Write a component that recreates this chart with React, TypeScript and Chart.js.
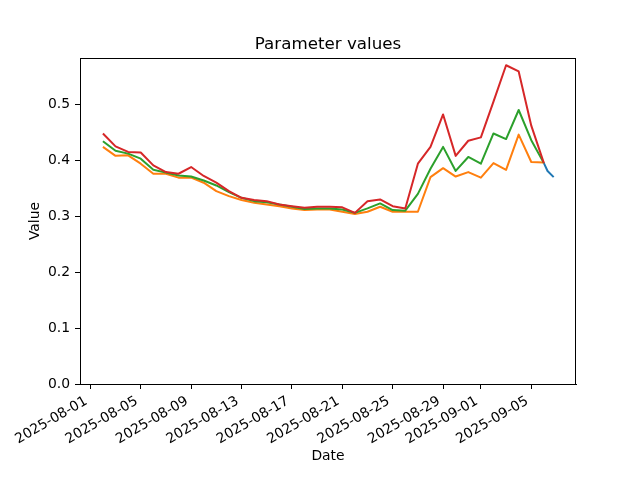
import React, { useEffect, useRef } from "react";
import { Chart, registerables } from "chart.js";

Chart.register(...registerables);

const ORIGIN_DATE = "2025-08-01";

const dates = [
  "2025-08-02", "2025-08-03", "2025-08-04", "2025-08-05", "2025-08-06", "2025-08-07",
  "2025-08-08", "2025-08-09", "2025-08-10", "2025-08-11", "2025-08-12", "2025-08-13",
  "2025-08-14", "2025-08-15", "2025-08-16", "2025-08-17", "2025-08-18", "2025-08-19",
  "2025-08-20", "2025-08-21", "2025-08-22", "2025-08-23", "2025-08-24", "2025-08-25",
  "2025-08-26", "2025-08-27", "2025-08-28", "2025-08-29", "2025-08-30", "2025-08-31",
  "2025-09-01", "2025-09-02", "2025-09-03", "2025-09-04", "2025-09-05", "2025-09-06",
];

const redValues = [
  0.448, 0.425, 0.415, 0.414, 0.391, 0.379, 0.376, 0.388, 0.372, 0.360, 0.345, 0.333,
  0.329, 0.327, 0.321, 0.318, 0.315, 0.317, 0.317, 0.316, 0.306, 0.327, 0.330, 0.318,
  0.314, 0.394, 0.424, 0.482, 0.408, 0.435, 0.441, 0.505, 0.570, 0.559, 0.462, 0.395,
];

const greenValues = [
  0.434, 0.417, 0.412, 0.403, 0.383, 0.378, 0.373, 0.371, 0.364, 0.355, 0.343, 0.333,
  0.327, 0.325, 0.321, 0.317, 0.313, 0.314, 0.314, 0.312, 0.306, 0.314, 0.323, 0.311,
  0.310, 0.340, 0.385, 0.424, 0.381, 0.406, 0.394, 0.448, 0.438, 0.490, 0.436, 0.395,
];

const orangeValues = [
  0.424, 0.408, 0.409, 0.394, 0.376, 0.376, 0.369, 0.369, 0.360, 0.345, 0.336, 0.329,
  0.324, 0.321, 0.318, 0.314, 0.311, 0.312, 0.312, 0.308, 0.304, 0.308, 0.317, 0.308,
  0.308, 0.308, 0.370, 0.386, 0.371, 0.379, 0.369, 0.395, 0.383, 0.446, 0.397, 0.396,
];

const blueDates = ["2025-09-06T00:00", "2025-09-06T07:00", "2025-09-06T18:40"];
const blueValues = [0.395, 0.381, 0.370];

const xTickLabels = [
  "2025-08-01", "2025-08-05", "2025-08-09", "2025-08-13", "2025-08-17",
  "2025-08-21", "2025-08-25", "2025-08-29", "2025-09-01", "2025-09-05",
];
const yTicks = [0, 0.1, 0.2, 0.3, 0.4, 0.5];

const FONT = "'DejaVu Sans', 'Liberation Sans', sans-serif";

function dayOffset(s: string): number {
  const parse = (t: string) => {
    const [d, time] = t.split("T");
    const [y, m, dd] = d.split("-").map(Number);
    let h = 0, mi = 0;
    if (time) {
      [h, mi] = time.split(":").map(Number);
    }
    return Date.UTC(y, m - 1, dd, h, mi);
  };
  return (parse(s) - parse(ORIGIN_DATE)) / 86400000;
}

function toPoints(ds: string[], vs: number[]) {
  return ds.map((d, i) => ({ x: dayOffset(d), y: vs[i] }));
}

const frameAndTitle = {
  id: "frameAndTitle",
  afterDraw(chart: any) {
    const { ctx, chartArea } = chart;
    ctx.save();
    ctx.strokeStyle = "#000";
    ctx.lineWidth = 1;
    ctx.strokeRect(
      Math.round(chartArea.left) + 0.5,
      Math.round(chartArea.top) + 0.5,
      Math.round(chartArea.right - chartArea.left) - 1,
      Math.round(chartArea.bottom - chartArea.top) - 0
    );
    ctx.fillStyle = "#000";
    ctx.font = `16.7px ${FONT}`;
    ctx.textAlign = "center";
    ctx.textBaseline = "alphabetic";
    ctx.fillText("Parameter values", (chartArea.left + chartArea.right) / 2, 49);
    ctx.restore();
  },
};

export default function App() {
  const ref = useRef<HTMLCanvasElement | null>(null);

  useEffect(() => {
    if (!ref.current) return;
    const tickFont = { family: FONT, size: 13.9 };
    const chart = new Chart(ref.current, {
      type: "line",
      data: {
        datasets: [
          {
            label: "blue",
            data: toPoints(blueDates, blueValues),
            borderColor: "#1f77b4",
            order: 4,
          },
          {
            label: "orange",
            data: toPoints(dates, orangeValues),
            borderColor: "#ff7f0e",
            order: 3,
          },
          {
            label: "green",
            data: toPoints(dates, greenValues),
            borderColor: "#2ca02c",
            order: 2,
          },
          {
            label: "red",
            data: toPoints(dates, redValues),
            borderColor: "#d62728",
            order: 1,
          },
        ] as any,
      },
      options: {
        animation: false,
        responsive: false,
        devicePixelRatio: 1,
        events: [],
        layout: { padding: { top: 58, right: 64, left: 0, bottom: 0 } },
        elements: {
          point: { radius: 0 },
          line: {
            borderWidth: 2,
            tension: 0,
            borderJoinStyle: "round",
            borderCapStyle: "butt",
          },
        },
        plugins: {
          legend: { display: false },
          title: { display: false },
          tooltip: { enabled: false },
        },
        scales: {
          x: {
            type: "linear",
            min: -0.82,
            max: 38.55,
            afterBuildTicks: (scale: any) => {
              scale.ticks = xTickLabels.map((l) => ({ value: dayOffset(l) }));
            },
            afterFit: (scale: any) => {
              scale.height = 96;
            },
            ticks: {
              autoSkip: false,
              minRotation: 30,
              maxRotation: 30,
              padding: 4,
              labelOffset: -4,
              color: "#000",
              font: tickFont,
              callback: (_v: any, i: number) => xTickLabels[i],
            },
            grid: {
              drawOnChartArea: false,
              drawTicks: true,
              tickLength: 5,
              color: "#000",
              lineWidth: 1,
            },
            border: { display: true, color: "#000", width: 1 },
            title: {
              display: true,
              text: "Date",
              color: "#000",
              font: { family: FONT, size: 13.9 },
              padding: { top: 0, bottom: 15 },
            },
          },
          y: {
            type: "linear",
            min: 0,
            max: 0.583,
            afterBuildTicks: (scale: any) => {
              scale.ticks = yTicks.map((v) => ({ value: v }));
            },
            afterFit: (scale: any) => {
              scale.width = 80;
            },
            ticks: {
              padding: 5,
              color: "#000",
              font: tickFont,
              callback: (v: any) => Number(v).toFixed(1),
            },
            grid: {
              drawOnChartArea: false,
              drawTicks: true,
              tickLength: 5,
              color: "#000",
              lineWidth: 1,
            },
            border: { display: true, color: "#000", width: 1 },
            title: {
              display: true,
              text: "Value",
              color: "#000",
              font: { family: FONT, size: 13.9 },
              padding: { top: 27, bottom: 0 },
            },
          },
        },
      },
      plugins: [frameAndTitle],
    });
    return () => chart.destroy();
  }, []);

  return (
    <div style={{ position: "absolute", left: 0, top: 0, width: 640, height: 480, background: "#fff" }}>
      <canvas ref={ref} width={640} height={480} style={{ width: 640, height: 480 }} />
    </div>
  );
}
